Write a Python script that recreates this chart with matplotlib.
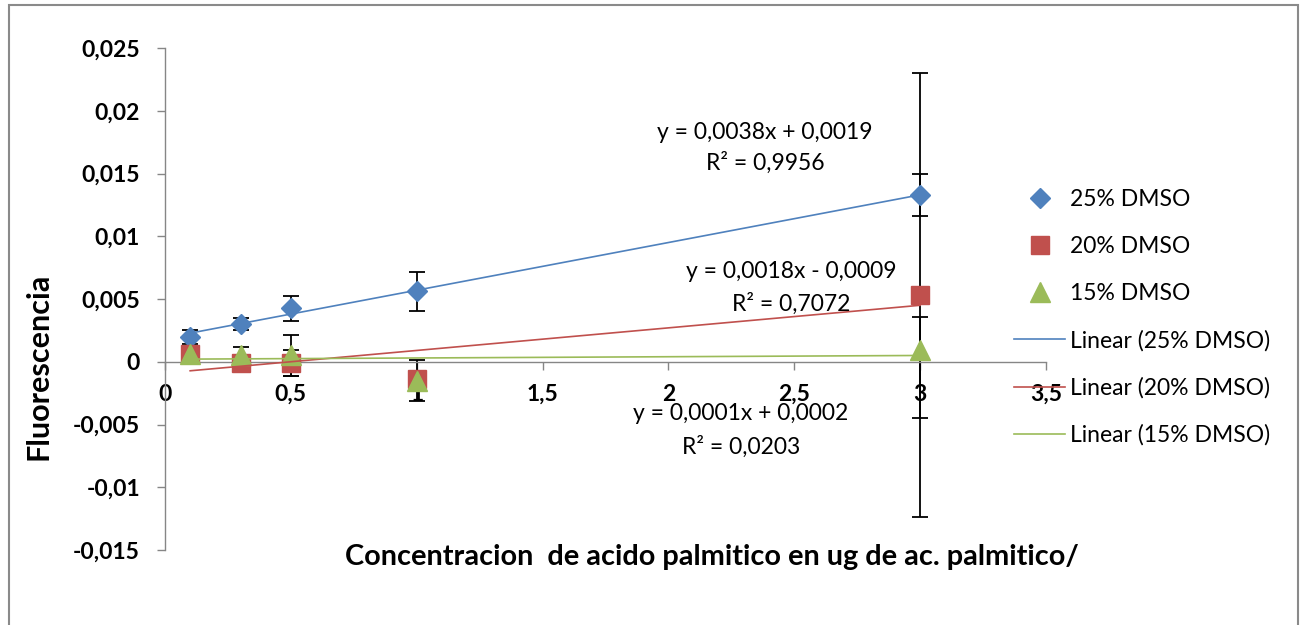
import matplotlib
matplotlib.use("Agg")
import matplotlib.pyplot as plt
from matplotlib.patches import Rectangle
import numpy as np

plt.rcParams['font.family'] = ['Lato', 'DejaVu Sans']

# data
conc = [0.1, 0.3, 0.5, 1, 3]

dmso25 = [0.00195, 0.0030, 0.00425, 0.0056, 0.0133]
dmso25_err = [0.00055, 0.0005, 0.001, 0.00155, 0.0017]

dmso20 = [0.0006, -0.0001, -0.0001, -0.0014, 0.0053]
dmso20_err = [0.0004, 0.0004, 0.001, 0.0004, 0.0177]

dmso15 = [0.0006, 0.0005, 0.0005, -0.0015, 0.0009]
dmso15_err_lo = [0.0004, 0.0007, 0.0016, 0.0016, 0.0054]
dmso15_err_hi = [0.0004, 0.0007, 0.0016, 0.0016, 0.0027]

# trendline coefficients (slope, intercept) as shown in the chart
fit25 = (0.0038, 0.0019)
fit20 = (0.0018, -0.0009)
fit15 = (0.0001, 0.0002)

eq25 = ["y = 0,0038x + 0,0019", "R² = 0,9956"]
eq20 = ["y = 0,0018x - 0,0009", "R² = 0,7072"]
eq15 = ["y = 0,0001x + 0,0002", "R² = 0,0203"]

xticks = [0, 0.5, 1, 1.5, 2, 2.5, 3, 3.5]
xticklabels = ["0", "0,5", "1", "1,5", "2", "2,5", "3", "3,5"]
yticks = [-0.015, -0.01, -0.005, 0, 0.005, 0.01, 0.015, 0.02, 0.025]
yticklabels = ["-0,015", "-0,01", "-0,005", "0", "0,005", "0,01", "0,015", "0,02", "0,025"]

blue = "#4F81BD"
red = "#C0504D"
green = "#9BBB59"
gray = "#868686"

W, H = 1301, 625
fig = plt.figure(figsize=(W / 100, H / 100), dpi=100)
fig.patches.append(Rectangle((9 / W, -0.02), 1289 / W, 1.02 - 5 / H,
                             transform=fig.transFigure, fill=False,
                             edgecolor="#8a8a8a", linewidth=1.5))

ax = fig.add_axes([165 / W, 75 / H, 881 / W, 502 / H])
ax.set_xlim(0, 3.5)
ax.set_ylim(-0.015, 0.025)

ebkw = dict(fmt="none", ecolor="black", elinewidth=1.3, capsize=6, capthick=1.3, zorder=2)
ax.errorbar(conc, dmso25, yerr=dmso25_err, **ebkw)
ax.errorbar(conc, dmso20, yerr=dmso20_err, **ebkw)
ax.errorbar(conc, dmso15, yerr=[dmso15_err_lo, dmso15_err_hi], **ebkw)

ax.plot(conc, dmso25, "D", color=blue, ms=10.5, mec=blue, label="25% DMSO", zorder=3)
ax.plot(conc, dmso20, "s", color=red, ms=13.5, mec=red, label="20% DMSO", zorder=3)
ax.plot(conc, dmso15, "^", color=green, ms=14, mec=green, label="15% DMSO", zorder=3)

xl = np.array([min(conc), max(conc)])
ax.plot(xl, fit25[0] * xl + fit25[1], color=blue, lw=1.2, label="Linear (25% DMSO)", zorder=4)
ax.plot(xl, fit20[0] * xl + fit20[1], color=red, lw=1.2, label="Linear (20% DMSO)", zorder=4)
ax.plot(xl, fit15[0] * xl + fit15[1], color=green, lw=1.2, label="Linear (15% DMSO)", zorder=4)

for s in ["top", "right"]:
    ax.spines[s].set_visible(False)
ax.spines["left"].set_position(("data", 0))
ax.spines["bottom"].set_position(("data", 0))
for s in ["left", "bottom"]:
    ax.spines[s].set_color(gray)
    ax.spines[s].set_linewidth(1.0)
ax.set_xticks(xticks)
ax.set_xticklabels(xticklabels, fontweight="bold", fontsize=16.5)
ax.set_yticks(yticks)
ax.set_yticklabels(yticklabels, fontweight="bold", fontsize=16.5)
ax.tick_params(axis="both", direction="out", length=6, width=1.0, color=gray)
ax.tick_params(axis="y", pad=12)
ax.tick_params(axis="x", pad=10)
ax.patch.set_alpha(0)

def eq_text(lines, cx, y1, y2):
    fig.text(cx / W, 1 - y1 / H, lines[0], ha="center", va="center", fontsize=16.5)
    fig.text(cx / W, 1 - y2 / H, lines[1], ha="center", va="center", fontsize=16.5)

eq_text(eq25, 765, 132, 163)
eq_text(eq20, 791, 272, 304)
eq_text(eq15, 741, 414, 447)

fig.text(39 / W, 1 - 366 / H, "Fluorescencia", rotation=90, ha="center", va="center",
         fontsize=22, fontweight="bold")
fig.text(345 / W, 1 - 557 / H, "Concentracion  de acido palmitico en ug de ac. palmitico/",
         ha="left", va="center", fontsize=20.8, fontweight="bold")

leg = ax.legend(loc="upper left", bbox_to_anchor=(1014 / W, 1 - 189 / H),
                bbox_transform=fig.transFigure, frameon=False, fontsize=16.5,
                handlelength=2.23, handletextpad=0.22, labelspacing=1.13,
                borderaxespad=0, borderpad=0)

fig.savefig("out.png", dpi=100)
